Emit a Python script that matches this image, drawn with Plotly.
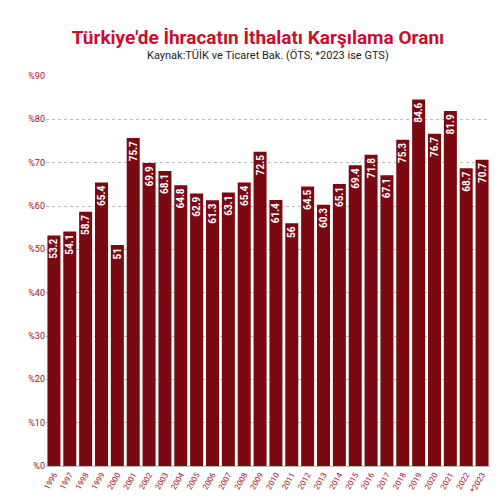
import plotly.graph_objects as go

years = ['1996', '1997', '1998', '1999', '2000', '2001', '2002', '2003', '2004', '2005',
         '2006', '2007', '2008', '2009', '2010', '2011', '2012', '2013', '2014', '2015',
         '2016', '2017', '2018', '2019', '2020', '2021', '2022', '*2023']
ratio = [53.2, 54.1, 58.7, 65.4, 51, 75.7, 69.9, 68.1, 64.8, 62.9,
         61.3, 63.1, 65.4, 72.5, 61.4, 56, 64.5, 60.3, 65.1, 69.4,
         71.8, 67.1, 75.3, 84.6, 76.7, 81.9, 68.7, 70.7]
tick_vals = [0, 10, 20, 30, 40, 50, 60, 70, 80, 90]
tick_text = ['%' + str(v) for v in tick_vals]

fig = go.Figure(go.Bar(
    x=years, y=ratio,
    text=['<b>' + str(v) + '</b>' for v in ratio],
    textposition='inside', insidetextanchor='end', textangle=-90,
    textfont=dict(color='white', size=10, family='Roboto'),
    marker=dict(color='#7a0912', line=dict(width=0)),
    width=0.82,
))

fig.update_layout(
    width=500, height=500,
    paper_bgcolor='white', plot_bgcolor='white',
    margin=dict(l=38, r=18, t=68, b=42),
    title=dict(text='<b>Türkiye\'de İhracatın İthalatı Karşılama Oranı</b>',
               x=0.5, y=0.955, xanchor='center',
               font=dict(size=19, color='#c8102e', family='Roboto')),
    annotations=[dict(text='Kaynak:TÜİK ve Ticaret Bak. (ÖTS; *2023 ise GTS)',
                      xref='paper', yref='paper', x=0.5, y=1.075, showarrow=False,
                      font=dict(size=11, color='#222', family='Roboto'))],
    showlegend=False,
    uniformtext=dict(minsize=8, mode='show'),
)
fig.update_yaxes(range=[0, 90], tickvals=tick_vals, ticktext=tick_text,
                 tickfont=dict(size=9, color='#a0101c', family='Roboto'),
                 showgrid=True, gridcolor='#bbbbbb', griddash='dot', zeroline=False)
fig.update_xaxes(tickangle=-60, tickfont=dict(size=8, color='#a0101c', family='Roboto'),
                 showline=True, linecolor='#bbbbbb')

fig.write_html("out.html")
